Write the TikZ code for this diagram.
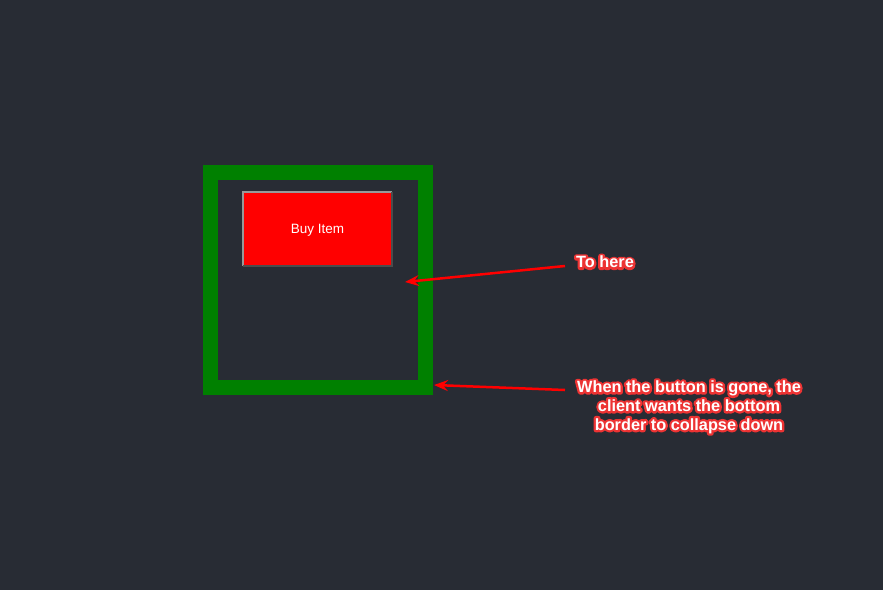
\documentclass[tikz,border=0pt]{standalone}
\usepackage{fontspec}
\setmainfont{Liberation Sans}
\usetikzlibrary{arrows.meta}
\definecolor{bgdark}{RGB}{40,44,52}
\definecolor{framegreen}{RGB}{0,128,0}
% Outlined text: a stroked red copy under the white one.
\newcommand{\callout}[1]{\leavevmode\rlap{\special{pdf:literal direct 1 Tr 4.6 w 1 J 1 j 0.93 0.2 0.2 RG}#1\special{pdf:literal direct 0 Tr}}#1}
\tikzset{
    callout/.style={text=white, font=\fontsize{16.3}{18.8}\selectfont\bfseries, inner sep=0pt, align=center},
    pointer/.style={draw=red, line width=2.5pt, -{Stealth[length=14pt,width=11pt,inset=5pt]}}
}
\begin{document}
\begin{tikzpicture}[x=1pt,y=-1pt]
        \fill[bgdark] (0,0) rectangle (883,590);
        % Container with the thick green border.
        \node[draw=framegreen, line width=15pt, minimum width=215pt, minimum height=215pt, inner sep=0pt] (frame) at (318,280) {};
        % Button.
        \node[fill=red, text=white, minimum width=149pt, minimum height=74pt, inner sep=0pt, font=\fontsize{13.5}{15}\selectfont] (button) at (317.5,229) {};
        \node[text=white, font=\fontsize{13.5}{15}\selectfont, inner sep=0pt] (buttontext) at (317.5,230) {Buy Item};
        \draw[gray!80, line width=2pt] (button.south west) -- (button.north west) -- (button.north east);
        \draw[black!70, line width=2pt] (button.north east) -- (button.south east) -- (button.south west);
        % Notes.
        \node[callout] (here) at (605,262) {\callout{To here}};
        \node[callout] (note) at (689,407) {\callout{When the button is gone, the}\\ \callout{client wants the bottom}\\ \callout{border to collapse down}};
        \coordinate (herehead) at (405,282);
        \coordinate (notetail) at (565,390);
        \coordinate (notehead) at (434,385);
        \draw[pointer] ([shift={(-11,4)}]here.west) -- (herehead);
        \draw[pointer] (notetail) -- (notehead);
    \end{tikzpicture}
\end{document}
